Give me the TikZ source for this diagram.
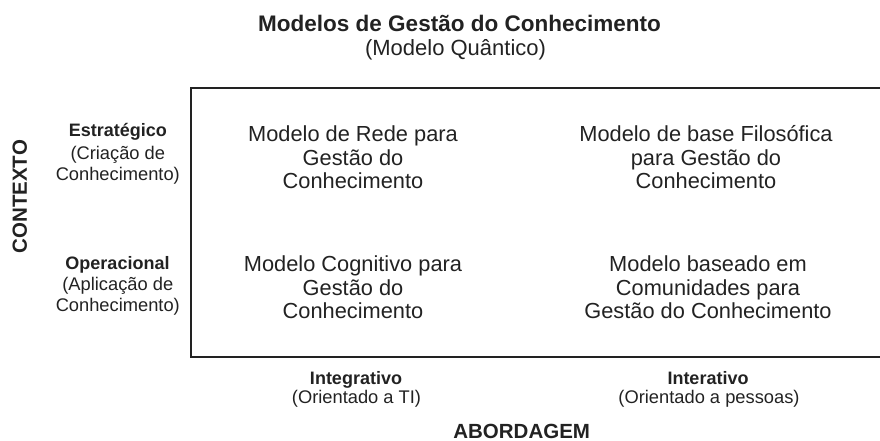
\documentclass[tikz,border=0pt]{standalone}
\usepackage{fontspec}
\setmainfont{Liberation Sans}
\definecolor{ink}{HTML}{222222}
\begin{document}
\begin{tikzpicture}[x=1pt,y=-1pt,
  every node/.style={inner sep=0pt, anchor=base, text=ink},
  titlestyle/.style={font=\fontsize{22.5}{26}\selectfont\bfseries},
  subtitlestyle/.style={font=\fontsize{22}{26}\selectfont},
  cell/.style={font=\fontsize{21.8}{23.5}\selectfont},
  sidehead/.style={font=\fontsize{18}{22}\selectfont\bfseries},
  side/.style={font=\fontsize{18.3}{22}\selectfont},
  axis/.style={font=\fontsize{20.5}{24}\selectfont\bfseries},
  frame/.style={draw=ink, line width=2pt}]
\useasboundingbox (0,0) rectangle (880,441);
% title
\node[titlestyle] (title) at (459.5,31.7) {Modelos de Gestão do Conhecimento};
\node[subtitlestyle] (subtitle) at (455.5,55.5) {(Modelo Quântico)};
% frame (open on the right, beyond the page edge)
\draw[frame] (884,88.3) -- (190.5,88.3) -- (190.5,356.5) -- (884,356.5);
% vertical axis
\node[axis, rotate=90, anchor=center] (contexto) at (19.7,196.7) {CONTEXTO};
\node[sidehead] (estr) at (117.8,136.7) {Estratégico};
\node[side] (estrA) at (117.8,159) {(Criação de};
\node[side] (estrB) at (117.8,180.7) {Conhecimento)};
\node[sidehead] (oper) at (117.5,269.3) {Operacional};
\node[side] (operA) at (117.8,290.5) {(Aplicação de};
\node[side] (operB) at (117.8,311.7) {Conhecimento)};
% cells
\node[cell] (c11a) at (353,141.7) {Modelo de Rede para};
\node[cell] (c11b) at (353,165.2) {Gestão do};
\node[cell] (c11c) at (353,188.8) {Conhecimento};
\node[cell] (c12a) at (706,141.7) {Modelo de base Filosófica};
\node[cell] (c12b) at (706,165.2) {para Gestão do};
\node[cell] (c12c) at (706,188.8) {Conhecimento};
\node[cell] (c21a) at (353,271.7) {Modelo Cognitivo para};
\node[cell] (c21b) at (353,295) {Gestão do};
\node[cell] (c21c) at (353,318.3) {Conhecimento};
\node[cell] (c22a) at (708,271.7) {Modelo baseado em};
\node[cell] (c22b) at (708,295) {Comunidades para};
\node[cell] (c22c) at (708,318.3) {Gestão do Conhecimento};
% horizontal axis
\node[sidehead] (integ) at (356,384) {Integrativo};
\node[side] (integA) at (356.5,403) {(Orientado a TI)};
\node[sidehead] (inter) at (708,384) {Interativo};
\node[side] (interA) at (709,403) {(Orientado a pessoas)};
\node[axis] (abord) at (521.7,438.3) {ABORDAGEM};
\end{tikzpicture}
\end{document}
